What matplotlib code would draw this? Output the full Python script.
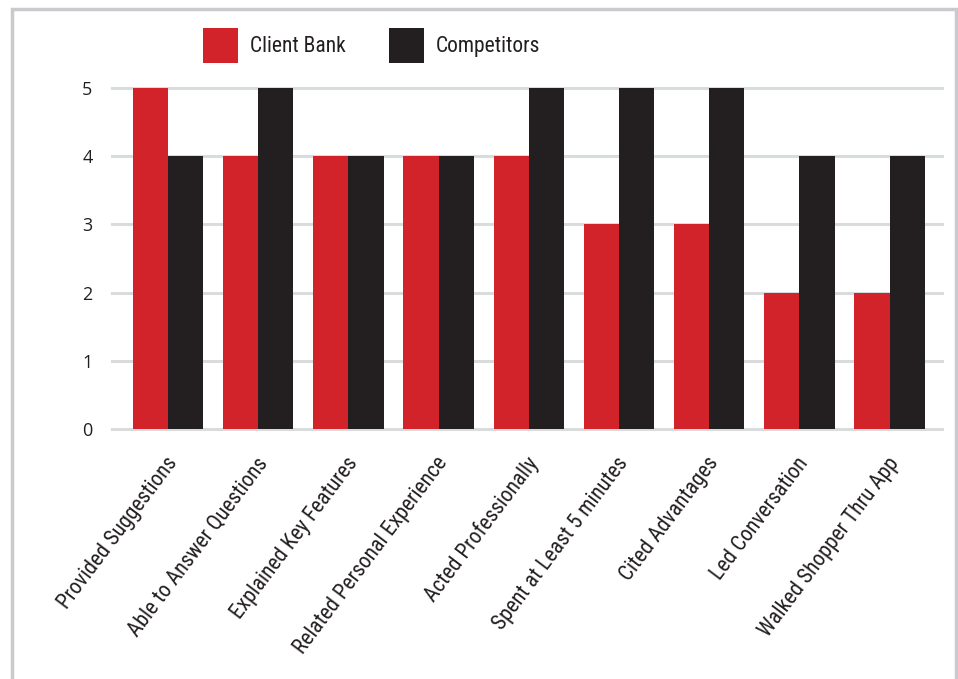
import matplotlib
matplotlib.use("Agg")
import numpy as np
import matplotlib.pyplot as plt
from matplotlib.patches import Rectangle

categories = [
    "Provided Suggestions",
    "Able to Answer Questions",
    "Explained Key Features",
    "Related Personal Experience",
    "Acted Professionally",
    "Spent at Least 5 minutes",
    "Cited Advantages",
    "Led Conversation",
    "Walked Shopper Thru App",
]
client_bank = [5, 4, 4, 4, 4, 3, 3, 2, 2]
competitors = [4, 5, 4, 4, 5, 5, 5, 4, 4]
y_ticks = [0, 1, 2, 3, 4, 5]

RED = "#D2232A"
BLACK = "#231F20"
GRID = "#DADBDC"

narrow = ["Roboto Condensed", "DejaVu Sans"]
plain = ["Open Sans", "DejaVu Sans"]

fig = plt.figure(figsize=(9.58, 6.79), dpi=100)
W, H = 958, 679
ax = fig.add_axes([112 / W, (H - 429) / H, (942 - 112) / W, (429 - 88) / H])

x = np.arange(len(categories))
bw = 0.39
ax.bar(x - bw / 2, client_bank, bw, color=RED, label="Client Bank", zorder=3)
ax.bar(x + bw / 2, competitors, bw, color=BLACK, label="Competitors", zorder=3)

ax.set_xlim(-0.62, 8.58)
ax.set_ylim(0, 5)
ax.set_yticks(y_ticks)
ax.set_yticklabels([str(t) for t in y_ticks], family=plain, fontsize=13,
                   color=BLACK)
for t in y_ticks:
    ax.axhline(t, color=GRID, lw=2.2, zorder=1, clip_on=False)

for s in ax.spines.values():
    s.set_visible(False)
ax.tick_params(axis="both", length=0)
ax.tick_params(axis="y", pad=14)
ax.set_xticks(x + 0.06)
ax.set_xticklabels(categories, rotation=53, ha="right", va="center",
                   rotation_mode="anchor", family=narrow, fontsize=15.5,
                   color=BLACK)
ax.tick_params(axis="x", pad=22)

leg = fig.legend(loc="upper left", bbox_to_anchor=(203 / W, 1 - 28 / H),
                 ncol=2, frameon=False, borderpad=0, borderaxespad=0,
                 handlelength=1.63, handleheight=2.13,
                 handletextpad=0.55, columnspacing=2.0,
                 prop={"family": narrow, "size": 15.5})
for t in leg.get_texts():
    t.set_color(BLACK)

# outer frame of the panel
fig.patches.append(Rectangle((12 / W, -0.05), (956 - 12) / W, 1.05 - 9 / H,
                             transform=fig.transFigure, fill=False,
                             edgecolor="#C9CACE", lw=2.5))

fig.savefig("out.png", dpi=100)
